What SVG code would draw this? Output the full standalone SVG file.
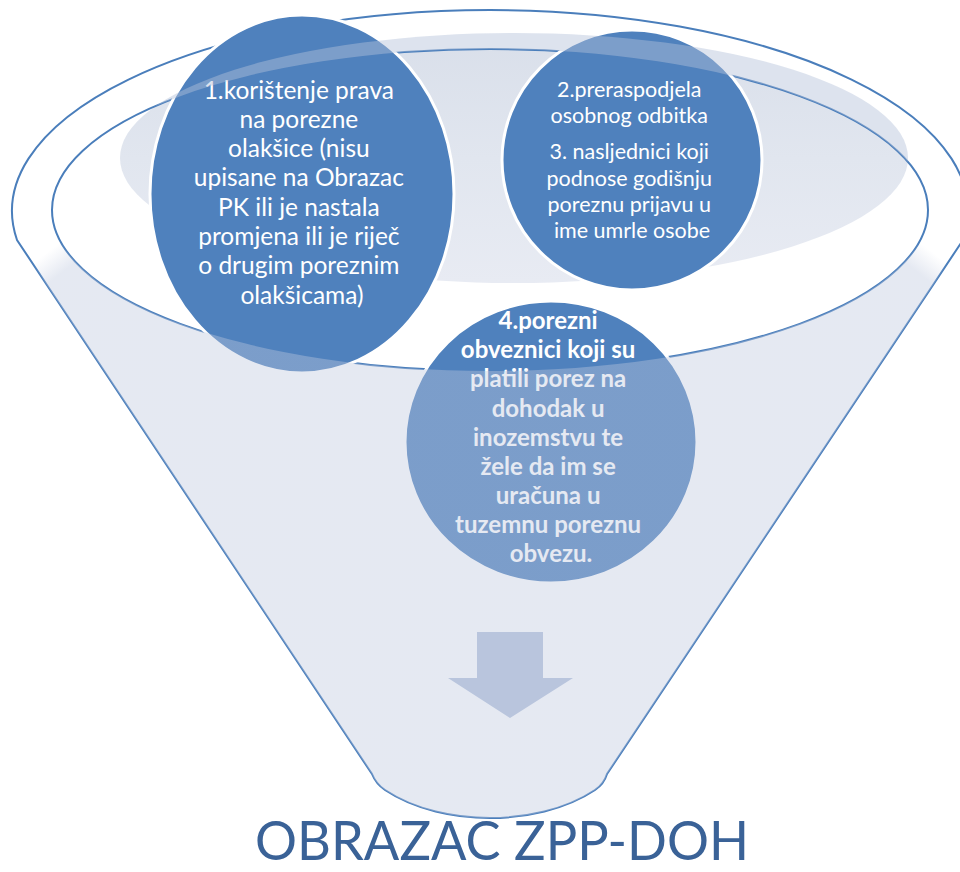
<svg xmlns="http://www.w3.org/2000/svg" width="960" height="872" viewBox="0 0 960 872">
<defs>
<style>
.outline{fill:none;stroke:#4A7EBB;stroke-width:2}
.circ{fill:#4F81BD;stroke:#FFFFFF;stroke-width:3}
.txt{font-family:Lato,"Liberation Sans",sans-serif;fill:#FFFFFF;text-anchor:middle}
.t1{font-size:24.5px}
.t2{font-size:21.5px}
.t4{font-size:24px;font-weight:bold}
.title{font-family:Lato,"Liberation Sans",sans-serif;font-size:54px;fill:#3A6297;text-anchor:middle}
</style>
<linearGradient id="backGrad" x1="0" y1="33" x2="0" y2="283" gradientUnits="userSpaceOnUse">
<stop offset="0" stop-color="#D9DFEA"/>
<stop offset="0.5" stop-color="#E1E6EF"/>
<stop offset="1" stop-color="#E8EBF3"/>
</linearGradient>
<radialGradient id="bodyGrad" cx="490" cy="820" r="720" gradientUnits="userSpaceOnUse">
<stop offset="0" stop-color="#BEC8DE" stop-opacity="0.4"/>
<stop offset="0.965" stop-color="#BEC8DE" stop-opacity="0.4"/>
<stop offset="1" stop-color="#BEC8DE" stop-opacity="0"/>
</radialGradient>
<clipPath id="innerClip">
<ellipse cx="490" cy="210" rx="438" ry="161"/>
</clipPath>
<clipPath id="frontClip">
<path clip-rule="evenodd" d="M17,240 A478,201 0 1 1 963,240 L607,774 Q604,784 595,790 C565,810 525,818 490,818 C455,818 415,810 385,790 Q376,784 372,774 Z M52,210 A438,161 0 1 0 928,210 A438,161 0 1 0 52,210 Z"/>
</clipPath>
</defs>
<rect width="960" height="872" fill="#FFFFFF"/>
<g id="funnel-back">
<ellipse cx="514" cy="158" rx="394" ry="125" fill="url(#backGrad)" clip-path="url(#innerClip)"/>
<path class="outline" d="M17,240 A478,201 0 1 1 963,240 L607,774 Q604,784 595,790 C565,810 525,818 490,818 C455,818 415,810 385,790 Q376,784 372,774 Z"/>
<ellipse class="outline" cx="490" cy="210" rx="438" ry="161"/>
</g>
<g id="node1">
<ellipse class="circ" cx="302" cy="194" rx="152" ry="179"/>
<text class="txt t1">
<tspan x="302" y="98.5">1.korištenje prava</tspan>
<tspan x="302" y="127.8">na porezne</tspan>
<tspan x="302" y="157.1">olakšice (nisu</tspan>
<tspan x="302" y="186.4">upisane na Obrazac</tspan>
<tspan x="302" y="215.7">PK ili je nastala</tspan>
<tspan x="302" y="245">promjena ili je riječ</tspan>
<tspan x="302" y="274.3">o drugim poreznim</tspan>
<tspan x="302" y="303.6">olakšicama)</tspan>
</text>
</g>
<g id="node2">
<circle class="circ" cx="632" cy="160" r="130"/>
<text class="txt t2">
<tspan x="632" y="97">2.preraspodjela</tspan>
<tspan x="632" y="123">osobnog odbitka</tspan>
<tspan x="632" y="159">3. nasljednici koji</tspan>
<tspan x="632" y="185.5">podnose godišnju</tspan>
<tspan x="632" y="212">poreznu prijavu u</tspan>
<tspan x="632" y="238">ime umrle osobe</tspan>
</text>
</g>
<g id="node4">
<ellipse class="circ" cx="551" cy="442" rx="146" ry="141"/>
<text class="txt t4">
<tspan x="551" y="329">4.porezni</tspan>
<tspan x="551" y="358">obveznici koji su</tspan>
<tspan x="551" y="387">platili porez na</tspan>
<tspan x="551" y="416.5">dohodak u</tspan>
<tspan x="551" y="446">inozemstvu te</tspan>
<tspan x="551" y="475">žele da im se</tspan>
<tspan x="551" y="504">uračuna u</tspan>
<tspan x="551" y="533">tuzemnu poreznu</tspan>
<tspan x="551" y="562">obvezu.</tspan>
</text>
</g>
<g id="funnel-front">
<ellipse cx="514" cy="158" rx="394" ry="125" fill="#B4C0DA" fill-opacity="0.45" clip-path="url(#frontClip)"/>
<path fill="url(#bodyGrad)" fill-rule="evenodd" d="M17,240 A478,201 0 1 1 963,240 L607,774 Q604,784 595,790 C565,810 525,818 490,818 C455,818 415,810 385,790 Q376,784 372,774 Z M52,210 A438,161 0 1 0 928,210 A438,161 0 1 0 52,210 Z"/>
</g>
<g id="connectors">
<path d="M477,632 L543,632 L543,678 L573,678 L510,718 L448,678 L477,678 Z" fill="#B9C5DD"/>
</g>
<g id="title">
<text class="title" x="502" y="860" textLength="494" lengthAdjust="spacingAndGlyphs">OBRAZAC ZPP-DOH</text>
</g>
</svg>
